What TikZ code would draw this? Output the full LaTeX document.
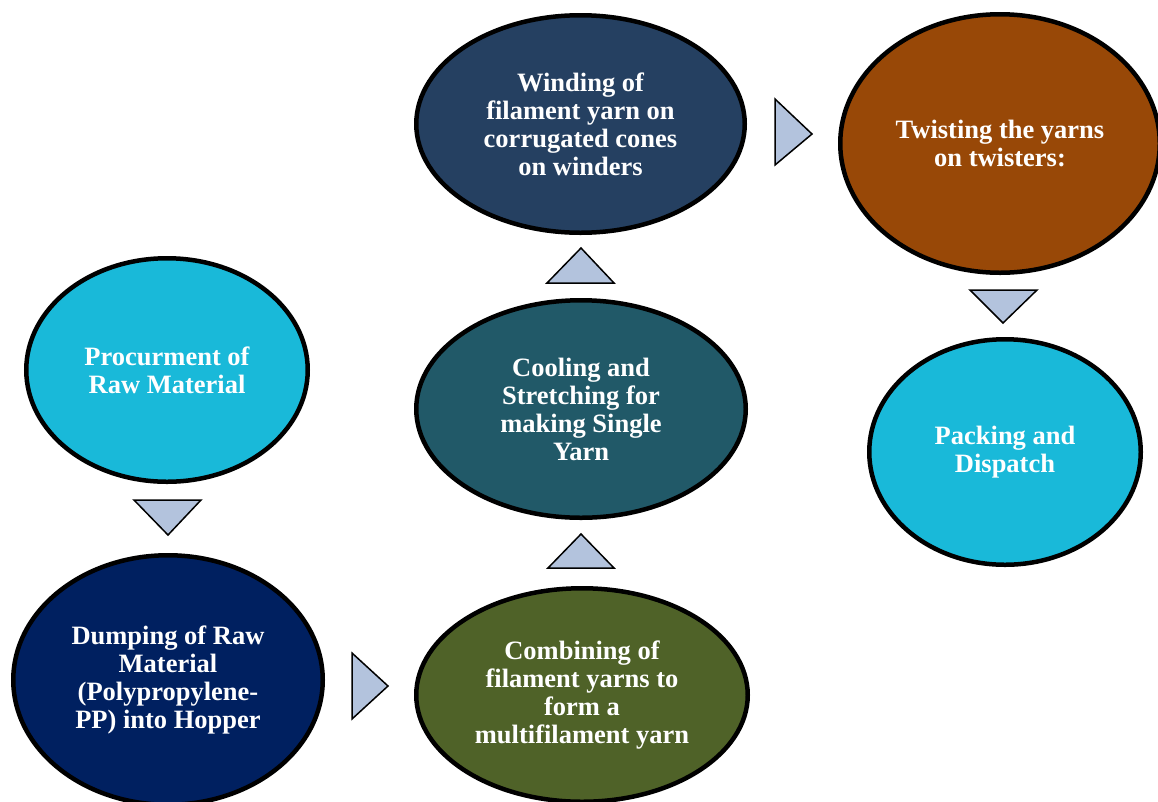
\documentclass[tikz,border=0pt]{standalone}
\usepackage{fontspec}
\setmainfont{Liberation Serif}
\usetikzlibrary{shapes.geometric}
\definecolor{cyanfill}{HTML}{19B9D9}
\definecolor{navyfill}{HTML}{002060}
\definecolor{olivefill}{HTML}{4F6228}
\definecolor{tealfill}{HTML}{215968}
\definecolor{bluefill}{HTML}{254061}
\definecolor{brownfill}{HTML}{984807}
\definecolor{trifill}{HTML}{B3C3DD}
\begin{document}
\begin{tikzpicture}[x=1pt,y=-1pt,
  ell/.style={ellipse, draw=black, line width=4.5pt, inner sep=0pt, text=white,
    font=\bfseries\fontsize{26.5}{28}\selectfont, align=center},
  tri/.style={draw=black, line width=1.5pt, fill=trifill, line join=miter}]
\useasboundingbox (0,0) rectangle (1158,801);
\clip (0,0) rectangle (1158,801);
\node[ell, fill=cyanfill, minimum width=281.5pt, minimum height=223.5pt] (proc) at (167,370) {Procurment of\\Raw Material};
\node[ell, fill=navyfill, minimum width=309.5pt, minimum height=249.5pt] (dump) at (168,680) {Dumping of Raw\\Material\\(Polypropylene-\\PP) into Hopper};
\node[ell, fill=olivefill, minimum width=331.5pt, minimum height=213.5pt] (comb) at (582,695) {Combining of\\filament yarns to\\form a\\multifilament yarn};
\node[ell, fill=tealfill, minimum width=329.5pt, minimum height=217.5pt] (cool) at (581,409) {Cooling and\\Stretching for\\making Single\\Yarn};
\node[ell, fill=bluefill, minimum width=328.5pt, minimum height=217.5pt] (wind) at (580.5,124) {Winding of\\filament yarn on\\corrugated cones\\on winders};
\node[ell, fill=brownfill, minimum width=319.5pt, minimum height=258.5pt] (twist) at (1000,143.5) {Twisting the yarns\\on twisters:};
\node[ell, fill=cyanfill, minimum width=271.5pt, minimum height=225.5pt] (pack) at (1005,452) {Packing and\\Dispatch};
% triangles
\draw[tri] (134,500) -- (201,500) -- (168,535) -- cycle;
\draw[tri] (352,653) -- (388,686) -- (352,719) -- cycle;
\draw[tri] (548,568) -- (614,568) -- (581,534) -- cycle;
\draw[tri] (547,283) -- (614,283) -- (581,248) -- cycle;
\draw[tri] (775,99) -- (812,134) -- (775,165) -- cycle;
\draw[tri] (970,290) -- (1037,290) -- (1003,323) -- cycle;
\end{tikzpicture}
\end{document}
